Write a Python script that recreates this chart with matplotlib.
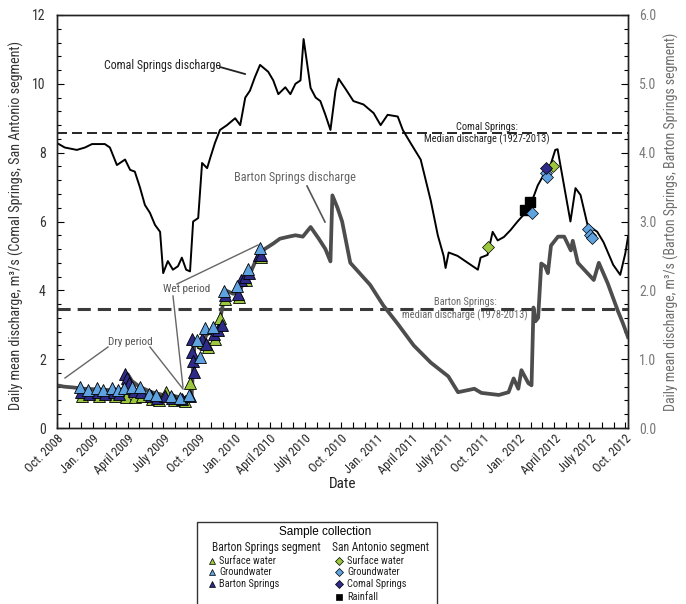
import pandas as pd
import matplotlib
matplotlib.use("Agg")
import matplotlib.pyplot as plt
import matplotlib.dates as mdates
from matplotlib import font_manager
from matplotlib.font_manager import FontProperties
from matplotlib.patches import Rectangle

# look for a narrow sans (the reference uses Arial Narrow); fall back to Liberation Sans
narrow_file = None
for want in ["Liberation Sans Narrow", "Roboto Condensed", "Open Sans Condensed",
             "DejaVu Sans Condensed", "Noto Sans Condensed"]:
    for f in font_manager.fontManager.ttflist:
        if f.name == want and f.style == "normal" and f.weight in (400, "normal", "regular"):
            narrow_file = f.fname
            break
    if narrow_file:
        break
if narrow_file is None:
    for f in font_manager.fontManager.ttflist:
        if (f.stretch in ("condensed", "semi-condensed") and f.style == "normal"
                and f.weight in (400, "normal", "regular") and "Mono" not in f.name
                and "Serif" not in f.name):
            narrow_file = f.fname
            break
SCALE = 1.0 if narrow_file else 0.82


def nfont(size):
    if narrow_file:
        return FontProperties(fname=narrow_file, size=size)
    return FontProperties(family="Liberation Sans", size=size * SCALE)


REG = "Liberation Sans"

# Comal Springs daily mean discharge (m3/s, left axis)
comal_dates = ["2008-10-01", "2008-10-21", "2008-11-21", "2008-12-12", "2008-12-30",
               "2009-02-01", "2009-02-14", "2009-03-04", "2009-03-25", "2009-04-07",
               "2009-04-19", "2009-05-02", "2009-05-15", "2009-05-28", "2009-06-10",
               "2009-06-23", "2009-07-01", "2009-07-13", "2009-07-26", "2009-08-08",
               "2009-08-18", "2009-08-29", "2009-09-08", "2009-09-16", "2009-09-29",
               "2009-10-09", "2009-10-22", "2009-10-30", "2009-11-11", "2009-11-24",
               "2009-12-12", "2010-01-02", "2010-01-15", "2010-01-28", "2010-02-09",
               "2010-02-22", "2010-03-07", "2010-03-28", "2010-04-10", "2010-04-23",
               "2010-05-11", "2010-05-24", "2010-06-06", "2010-06-19", "2010-06-27",
               "2010-07-15", "2010-07-28", "2010-08-09", "2010-08-22", "2010-09-04",
               "2010-09-17", "2010-09-25", "2010-10-13", "2010-11-02", "2010-11-28",
               "2010-12-24", "2011-01-11", "2011-01-29", "2011-02-24", "2011-03-09",
               "2011-03-29", "2011-04-24", "2011-05-20", "2011-06-07", "2011-06-22",
               "2011-06-27", "2011-07-05", "2011-07-28", "2011-08-23", "2011-09-18",
               "2011-09-25", "2011-10-13", "2011-10-26", "2011-11-08", "2011-11-24",
               "2011-12-11", "2011-12-29", "2012-01-14", "2012-02-01", "2012-02-19",
               "2012-03-05", "2012-03-23", "2012-04-04", "2012-04-10", "2012-04-17",
               "2012-05-13", "2012-05-26", "2012-06-08", "2012-06-26", "2012-07-21",
               "2012-08-06", "2012-08-31", "2012-09-18", "2012-10-01", "2012-10-08"]
comal_q = [8.28, 8.15, 8.08, 8.15, 8.25,
           8.25, 8.15, 7.64, 7.8, 7.5,
           7.45, 7.0, 6.48, 6.25, 5.9,
           5.7, 4.5, 4.85, 4.6, 4.7,
           4.95, 4.6, 4.55, 6.0, 6.1,
           7.7, 7.55, 7.85, 8.28, 8.66,
           8.8, 9.0, 8.8, 9.6, 9.8,
           10.2, 10.55, 10.35, 10.1, 9.7,
           9.9, 9.7, 10.0, 10.1, 11.3,
           9.88, 9.6, 9.5, 9.1, 8.66,
           9.8, 10.15, 9.85, 9.5, 9.4,
           9.15, 8.8, 9.1, 9.05, 8.66,
           8.28, 7.8, 6.6, 5.6, 5.0,
           4.65, 5.1, 5.0, 4.8, 4.6,
           4.95, 5.03, 5.7, 5.45, 5.55,
           5.75, 6.0, 6.2, 6.5, 7.05,
           7.35, 7.65, 8.08, 8.1, 7.65,
           6.0, 6.97, 6.77, 5.9, 5.7,
           5.4, 4.74, 4.45, 5.07, 5.55]

# Barton Springs daily mean discharge (m3/s, right axis)
barton_dates = ["2008-10-01", "2008-10-20", "2008-11-10", "2008-12-10", "2009-01-15",
                "2009-02-15", "2009-03-20", "2009-04-01", "2009-04-12", "2009-05-01",
                "2009-06-01", "2009-07-01", "2009-08-01", "2009-09-01", "2009-09-12",
                "2009-09-16", "2009-09-20", "2009-10-05", "2009-10-20", "2009-11-05",
                "2009-11-20", "2009-11-30", "2009-12-08", "2009-12-28", "2010-01-15",
                "2010-01-28", "2010-02-10", "2010-03-01", "2010-03-19", "2010-04-10",
                "2010-04-27", "2010-05-20", "2010-06-06", "2010-06-25", "2010-07-15",
                "2010-08-05", "2010-08-22", "2010-09-04", "2010-09-09", "2010-09-22",
                "2010-10-04", "2010-10-25", "2010-12-15", "2011-01-18", "2011-02-23",
                "2011-04-06", "2011-05-20", "2011-07-04", "2011-07-29", "2011-09-09",
                "2011-09-27", "2011-11-11", "2011-12-06", "2011-12-19", "2011-12-31",
                "2012-01-08", "2012-01-26", "2012-02-03", "2012-02-08", "2012-02-13",
                "2012-02-20", "2012-02-28", "2012-03-09", "2012-03-16", "2012-03-24",
                "2012-04-11", "2012-04-27", "2012-05-14", "2012-05-19", "2012-06-01",
                "2012-07-12", "2012-07-25", "2012-08-17", "2012-09-12", "2012-09-25",
                "2012-10-08"]
barton_q = [0.62, 0.60, 0.59, 0.57, 0.56,
            0.55, 0.56, 0.78, 0.68, 0.60,
            0.52, 0.48, 0.46, 0.43, 0.45,
            0.90, 1.25, 1.15, 1.35, 1.42,
            1.45, 1.75, 2.0, 1.95, 2.0,
            2.2, 2.25, 2.5, 2.6, 2.68,
            2.75, 2.78, 2.8, 2.78, 2.92,
            2.75, 2.6, 2.42, 3.38, 3.2,
            3.0, 2.4, 2.08, 1.78, 1.52,
            1.2, 0.95, 0.75, 0.52, 0.57,
            0.51, 0.48, 0.52, 0.72, 0.57,
            0.84, 0.65, 0.62, 1.75, 1.55,
            1.6, 2.39, 2.35, 2.25, 2.65,
            2.78, 2.78, 2.58, 2.72, 2.4,
            2.15, 2.4, 2.1, 1.7, 1.52,
            1.32]

comal_median = 8.57
barton_median = 1.73

# Barton Springs segment samples (right axis units)
sw_tri_dates = ["2008-12-03", "2009-01-18", "2009-02-27", "2009-03-28", "2009-04-20",
                "2009-05-08", "2009-06-02", "2009-06-20", "2009-07-08", "2009-07-28",
                "2009-08-25", "2009-09-09", "2009-10-12", "2009-10-24", "2009-11-10",
                "2009-11-24", "2009-12-08", "2010-01-12", "2010-01-30", "2010-03-10"]
sw_tri_q = [0.47, 0.47, 0.46, 0.45, 0.45,
            0.46, 0.42, 0.41, 0.52, 0.40,
            0.39, 0.65, 1.25, 1.18, 1.30,
            1.60, 1.88, 1.90, 2.15, 2.48]

bs_tri_dates = ["2008-12-01", "2008-12-23", "2009-01-15", "2009-02-01", "2009-02-24",
                "2009-03-10", "2009-03-26", "2009-03-30", "2009-04-05", "2009-04-16",
                "2009-05-06", "2009-05-30", "2009-06-16", "2009-07-05", "2009-07-24",
                "2009-08-18", "2009-09-09", "2009-09-12", "2009-09-14", "2009-09-16",
                "2009-09-19", "2009-10-10", "2009-10-20", "2009-11-08", "2009-11-20",
                "2009-11-28", "2009-12-06", "2010-01-10", "2010-01-18", "2010-01-28",
                "2010-02-07", "2010-03-05", "2010-03-10"]
bs_tri_q = [0.52, 0.50, 0.52, 0.50, 0.52,
            0.50, 0.78, 0.72, 0.65, 0.54,
            0.53, 0.46, 0.44, 0.47, 0.43,
            0.42, 0.46, 1.30, 1.10, 0.97,
            0.82, 1.30, 1.22, 1.36, 1.42,
            1.50, 1.93, 1.95, 2.15, 2.20,
            2.25, 2.52, 2.52]

gw_tri_dates = ["2008-11-29", "2008-12-20", "2009-01-12", "2009-01-28", "2009-02-20",
                "2009-03-06", "2009-03-22", "2009-04-12", "2009-05-02", "2009-05-26",
                "2009-06-12", "2009-07-20", "2009-08-14", "2009-09-06", "2009-09-27",
                "2009-10-04", "2009-10-17", "2009-11-06", "2009-12-04", "2010-01-07",
                "2010-02-04", "2010-03-07"]
gw_tri_q = [0.59, 0.55, 0.58, 0.55, 0.58,
            0.55, 0.58, 0.60, 0.59, 0.50,
            0.48, 0.46, 0.44, 0.48, 1.28,
            1.03, 1.45, 1.47, 1.99, 2.06,
            2.31, 2.62]

# San Antonio segment samples (left axis units)
sw_dia_dates = ["2011-10-15", "2012-03-30"]
sw_dia_q = [5.27, 7.6]
rain_dates = ["2012-01-18", "2012-01-31"]
rain_q = [6.33, 6.57]
gw_dia_dates = ["2012-02-05", "2012-03-12", "2012-03-13", "2012-06-28", "2012-07-03", "2012-07-08"]
gw_dia_q = [6.25, 7.4, 7.3, 5.78, 5.6, 5.52]
cs_dia_dates = ["2012-03-12"]
cs_dia_q = [7.55]

tick_dates = pd.date_range("2008-10-01", "2012-10-01", freq="QS-OCT")
tick_month_names = {1: "Jan.", 4: "April", 7: "July", 10: "Oct."}

GREEN = "#9cc63e"
LBLUE = "#5ea2df"
DBLUE = "#2e2a88"

d = pd.to_datetime

fig = plt.figure(figsize=(6.86, 6.04), dpi=100)
ax = fig.add_axes([57 / 686, 1 - 428 / 604, 571 / 686, 413 / 604])
ax2 = ax.twinx()

ax.plot(d(comal_dates), comal_q, color="black", lw=1.4, zorder=3)
ax.axhline(comal_median, color="black", lw=1.2, dashes=(6, 3), zorder=2)

ax2.plot(d(barton_dates), barton_q, color="#4d4d4d", lw=2.7, zorder=2)
ax2.axhline(barton_median, color="#3a3a3a", lw=2.2, dashes=(4.3, 2.3), zorder=1)

tri = dict(marker="^", ms=8, mec="black", mew=0.6, ls="none", zorder=4)
ax2.plot(d(sw_tri_dates), sw_tri_q, mfc=GREEN, **tri)
ax2.plot(d(bs_tri_dates), bs_tri_q, mfc=DBLUE, **tri)
ax2.plot(d(gw_tri_dates), gw_tri_q, mfc=LBLUE, **tri)

dia = dict(marker="D", ms=6, mec="black", mew=0.5, ls="none", zorder=5)
ax.plot(d(rain_dates), rain_q, marker="s", ms=7, mfc="black", mec="black", ls="none", zorder=5)
ax.plot(d(gw_dia_dates), gw_dia_q, mfc=LBLUE, **dia)
ax.plot(d(sw_dia_dates), sw_dia_q, mfc=GREEN, **dia)
ax.plot(d(cs_dia_dates), cs_dia_q, mfc=DBLUE, **dia)

ax.set_xlim(d("2008-10-01"), d("2012-10-08"))
ax.set_ylim(0, 12)
ax2.set_ylim(0, 6)

ax.set_xticks(tick_dates)
ax.set_xticklabels([f"{tick_month_names[t.month]} {t.year}" for t in tick_dates],
                   rotation=45, ha="right", rotation_mode="anchor",
                   fontproperties=nfont(9), color="#222222")
ax.xaxis.set_minor_locator(mdates.MonthLocator())
ax.set_yticks(range(0, 13, 2))
ax.set_yticks([i * 0.4 for i in range(31)], minor=True)
ax2.set_yticks([0, 1, 2, 3, 4, 5, 6])
ax2.set_yticklabels(["0.0", "1.0", "2.0", "3.0", "4.0", "5.0", "6.0"])
ax2.set_yticks([i * 0.2 for i in range(31)], minor=True)

ax.tick_params(axis="both", which="both", direction="in", top=False, right=False)
ax.tick_params(axis="x", which="both", length=4, width=0.8, pad=3)
ax.tick_params(axis="y", which="major", length=5, width=0.8, labelcolor="#333333", pad=8)
ax.tick_params(axis="y", which="minor", length=3, width=0.8)
ax2.tick_params(axis="y", which="both", direction="in", left=False, right=True)
ax2.tick_params(axis="y", which="major", length=5, width=0.8, labelcolor="#7a7a7a", pad=8)
ax2.tick_params(axis="y", which="minor", length=3, width=0.8)
for lab in ax.get_yticklabels() + ax2.get_yticklabels():
    lab.set_fontproperties(nfont(10))

for a in (ax, ax2):
    for s in a.spines.values():
        s.set_linewidth(1.0)
        s.set_color("#222222")

ax.set_ylabel("Daily mean discharge, m³/s (Comal Springs, San Antonio segment)",
              fontproperties=nfont(10.2), color="#333333")
ax.yaxis.set_label_coords(-0.058, 0.49)
ax2.set_ylabel("Daily mean discharge, m³/s (Barton Springs, Barton Springs segment)",
               fontproperties=nfont(10), color="#6e6e6e")
ax2.yaxis.set_label_coords(1.062, 0.5)
ax.set_xlabel("Date", fontproperties=nfont(11), color="#222222")
ax.xaxis.set_label_coords(0.5, -0.118)


# annotations, placed in pixel space of the reference
def fx(px):
    return (px - 57) / 571


def fy(py):
    return (428 - py) / 413


def note(px, py, s, color, size):
    ax.text(fx(px), fy(py), s, transform=ax.transAxes, ha="center", va="center",
            fontproperties=nfont(size), color=color, zorder=6)


def leader(x0, y0, x1, y1, color, lw=1.0):
    ax.plot([fx(x0), fx(x1)], [fy(y0), fy(y1)], transform=ax.transAxes,
            color=color, lw=lw, clip_on=False, zorder=6)


note(162, 66, "Comal Springs discharge", "#222222", 8.6)
leader(220, 67, 245, 74, "#222222", 1.3)
note(295, 177, "Barton Springs discharge", "#666666", 8.8)
leader(307, 186, 325, 222, "#555555", 1.2)
note(487, 127, "Comal Springs:", "#222222", 7.5)
note(487, 139, "Median discharge (1927-2013)", "#222222", 7.5)
note(465, 302, "Barton Springs:", "#666666", 7.5)
note(465, 315, "median discharge (1978-2013)", "#666666", 7.5)
note(187, 289, "Wet period", "#555555", 8)
leader(177, 284, 258, 245, "#666666", 1.0)
leader(173, 296, 183, 387, "#666666", 1.0)
note(130, 342, "Dry period", "#555555", 8)
leader(108, 347, 65, 378, "#666666", 1.0)
leader(150, 347, 183, 389, "#666666", 1.0)

# legend box drawn in figure pixels
lax = fig.add_axes([0, 0, 1, 1], zorder=10)
lax.set_xlim(0, 686)
lax.set_ylim(604, 0)
lax.axis("off")
lax.add_patch(Rectangle((197, 522), 240, 100, fill=False, lw=1.0, ec="#333333"))
lax.text(325, 532, "Sample collection", ha="center", va="center", family=REG, fontsize=8.5)
lax.text(266, 547, "Barton Springs segment", ha="center", va="center",
         fontproperties=nfont(8.3), color="#222222")
lax.text(381, 547, "San Antonio segment", ha="center", va="center",
         fontproperties=nfont(8.3), color="#222222")

left_items = [("Surface water", GREEN), ("Groundwater", LBLUE), ("Barton Springs", DBLUE)]
right_items = [("Surface water", GREEN, "D"), ("Groundwater", LBLUE, "D"),
               ("Comal Springs", DBLUE, "D"), ("Rainfall", "black", "s")]
rows = [561, 572, 584, 597]
for (lbl, c), yy in zip(left_items, rows):
    lax.plot([212], [yy], marker="^", ms=5, mfc=c, mec="black", mew=0.5, ls="none")
    lax.text(219, yy, lbl, va="center", fontproperties=nfont(7.5), color="#222222")
for (lbl, c, m), yy in zip(right_items, rows):
    lax.plot([339], [yy], marker=m, ms=4.5, mfc=c, mec="black", mew=0.5, ls="none")
    lax.text(347, yy, lbl, va="center", fontproperties=nfont(7.5), color="#222222")

fig.savefig("out.png", dpi=100)
